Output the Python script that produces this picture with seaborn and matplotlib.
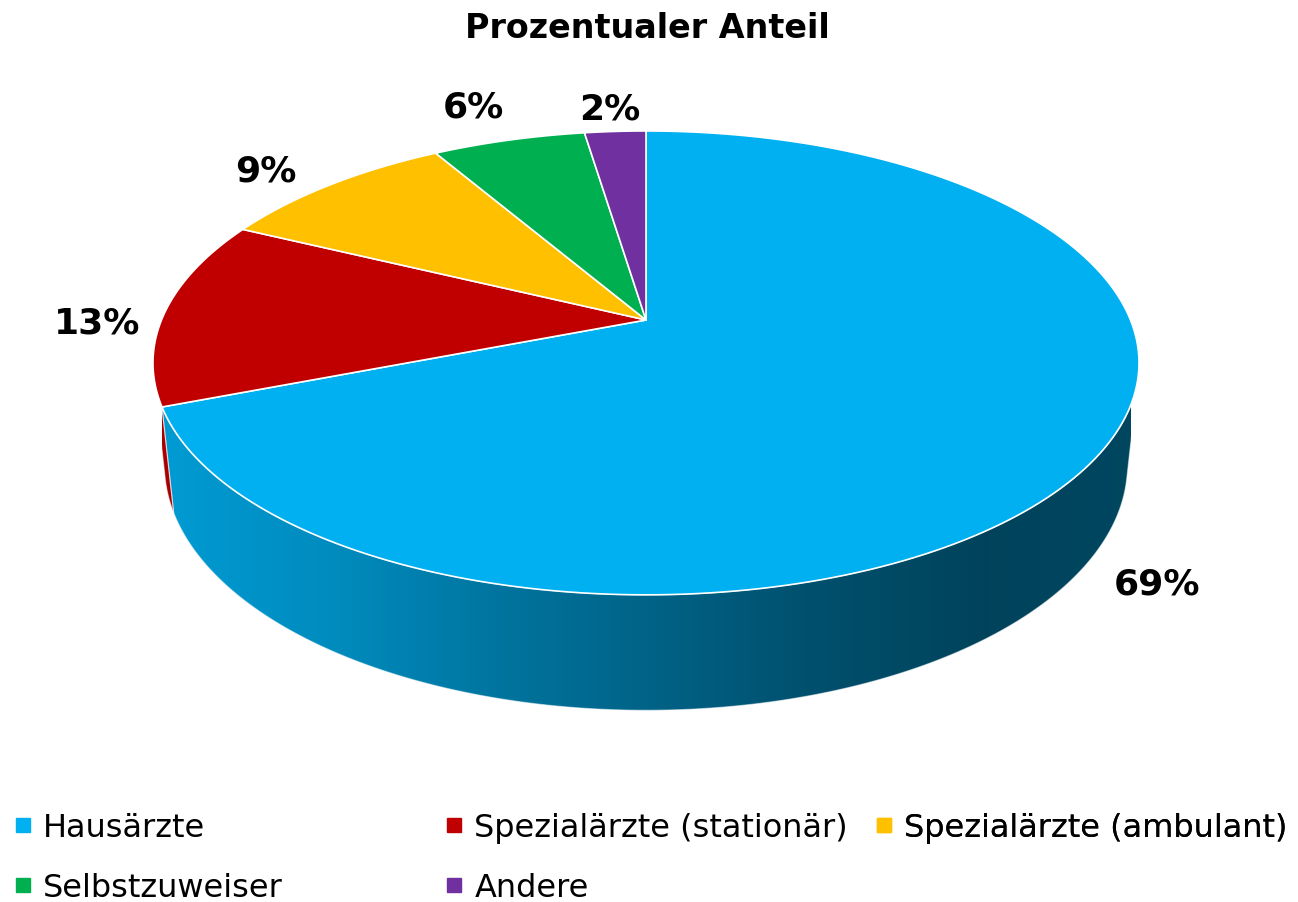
import numpy as np
import matplotlib
matplotlib.use("Agg")
import matplotlib.pyplot as plt
import seaborn as sns
from matplotlib.patches import Polygon
from matplotlib.lines import Line2D
from matplotlib.colors import to_rgb

# ---------------- data ----------------
categories = ["Hausärzte", "Spezialärzte (stationär)", "Spezialärzte (ambulant)",
              "Selbstzuweiser", "Andere"]
shares = [69.1, 13.1, 9.4, 6.0, 2.4]
colors = ["#00B0F0", "#C00000", "#FFC000", "#00B050", "#7030A0"]
title = "Prozentualer Anteil"

# ---------------- style ----------------
sns.set_theme(style="white")
plt.rcParams["font.family"] = ["DejaVu Sans"]
plt.rcParams["text.color"] = "black"

W, H = 1298, 903
fig = plt.figure(figsize=(W / 100, H / 100), dpi=100)
ax = fig.add_axes([0, 0, 1, 1])
ax.set_xlim(0, W)
ax.set_ylim(H, 0)
ax.axis("off")

# ---------------- 3D projection (perspective camera) ----------------
CX, CY = 646.0, 321.0       # apex of the pie on screen
A_, K_, B_ = 484.5, 0.185, 224.0
sinp = B_ / A_
cosp = np.sqrt(1 - sinp ** 2)
L = cosp / K_
F = A_ * L
DEPTH = 0.24


def proj(theta_deg, r=1.0, z=0.0):
    t = np.radians(theta_deg)
    u = r * np.cos(t)
    w = -r * np.sin(t)
    d = L - z * sinp - w * cosp
    sx = CX + F * u / d
    sy = CY - F * (z * cosp - w * sinp) / d
    return sx, sy


def arc(t1, t2, r=1.0, z=0.0, n=200):
    th = np.linspace(t1, t2, n)
    x, y = proj(th, r, z)
    return np.column_stack([x, y])


vals = np.array(shares, dtype=float)
fr = vals / vals.sum()
cum = np.concatenate([[0], np.cumsum(fr)])
start = 90.0
th_hi = start - cum[:-1] * 360.0
th_lo = start - cum[1:] * 360.0

# visible side wall range
wmin = 1.0 / (L * cosp)
vis_lo = 180.0 + np.degrees(np.arcsin(wmin))
vis_hi = 360.0 - np.degrees(np.arcsin(wmin))

# shading across the body width
x_left, _ = proj(180.0)
x_right, _ = proj(0.0)
shade_stops_f = [0.0, 0.18, 0.35, 0.66, 0.85, 1.0]
shade_stops_v = [0.88, 0.79, 0.66, 0.46, 0.38, 0.40]

for i in range(len(vals)):
    lo, hi = th_lo[i], th_hi[i]
    for k in (-1, 0, 1):
        a = max(lo, vis_lo + 360 * k)
        b = min(hi, vis_hi + 360 * k)
        if b <= a:
            continue
        top = arc(a, b, 1.0, 0.0)
        bot = arc(b, a, 1.0, -DEPTH)
        poly_pts = np.vstack([top, bot])
        poly = Polygon(poly_pts, closed=True, facecolor="none",
                       edgecolor="none", zorder=1)
        ax.add_patch(poly)
        xs = np.linspace(x_left, x_right, 400)
        f = (xs - x_left) / (x_right - x_left)
        sh = np.interp(f, shade_stops_f, shade_stops_v)
        base = np.array(to_rgb(colors[i]))
        img = np.clip(sh[:, None] * base[None, :], 0, 1)[None, :, :]
        ymin = poly_pts[:, 1].min() - 2
        ymax = poly_pts[:, 1].max() + 2
        im = ax.imshow(img, extent=(x_left, x_right, ymax, ymin),
                       aspect="auto", interpolation="bilinear", zorder=1)
        im.set_clip_path(poly)
        outline = Polygon(poly_pts, closed=True, facecolor="none",
                          edgecolor=(1, 1, 1, 0.5), lw=0.8, zorder=2)
        ax.add_patch(outline)

# top face wedges
for i in range(len(vals)):
    pts = np.vstack([[CX, CY], arc(th_lo[i], th_hi[i], 1.0, 0.0)])
    ax.add_patch(Polygon(pts, closed=True, facecolor=colors[i],
                         edgecolor="white", lw=1.2, joinstyle="round",
                         zorder=3))

# ---------------- labels ----------------
LBL_FS = 26
em = LBL_FS * 100 / 72
for i in range(len(vals)):
    mid = (th_lo[i] + th_hi[i]) / 2
    w = -np.sin(np.radians(mid))
    front = w > 0.2
    z = -0.75 * DEPTH if front else 0.0
    ex, ey = proj(mid, 1.0, z)
    dx, dy = ex - CX, ey - CY
    n = np.hypot(dx, dy)
    dx, dy = dx / n, dy / n
    if front:
        off = 12 + abs(dx) * 70 + abs(dy) * 16
        lx, ly = ex + dx * off, ey + dy * off
    else:
        off = 12 + abs(dx) * 56 + abs(dy) * 16
        lx, ly = ex + dx * off, ey + dy * off + 10
    ax.text(lx, ly + 0.729 * em / 2, f"{round(vals[i]):.0f}%",
            ha="center", va="baseline", fontsize=LBL_FS,
            fontweight="bold", color="black", zorder=5)

# ---------------- title ----------------
ax.text(647, 38, title, ha="center", va="baseline", fontsize=24,
        fontweight="bold", color="black")

# ---------------- legend (Excel style: equal column widths) ----------------
LEG_FS = 23
handles = [Line2D([], [], marker="s", linestyle="none", markersize=10,
                  markerfacecolor=c, markeredgecolor=c) for c in colors]
ncol = 3
col_x = [13, 444, 874]
leg_top = 813
for c in range(ncol):
    idx = list(range(c, len(categories), ncol))
    leg = ax.legend([handles[j] for j in idx], [categories[j] for j in idx],
                    loc="upper left", bbox_to_anchor=(col_x[c], leg_top),
                    bbox_transform=ax.transData, frameon=False,
                    fontsize=LEG_FS, handlelength=0.6, handletextpad=0.35,
                    labelspacing=0.9, borderpad=0, borderaxespad=0,
                    labelcolor="black")
    ax.add_artist(leg)

fig.savefig("out.png", dpi=100, facecolor="white")
